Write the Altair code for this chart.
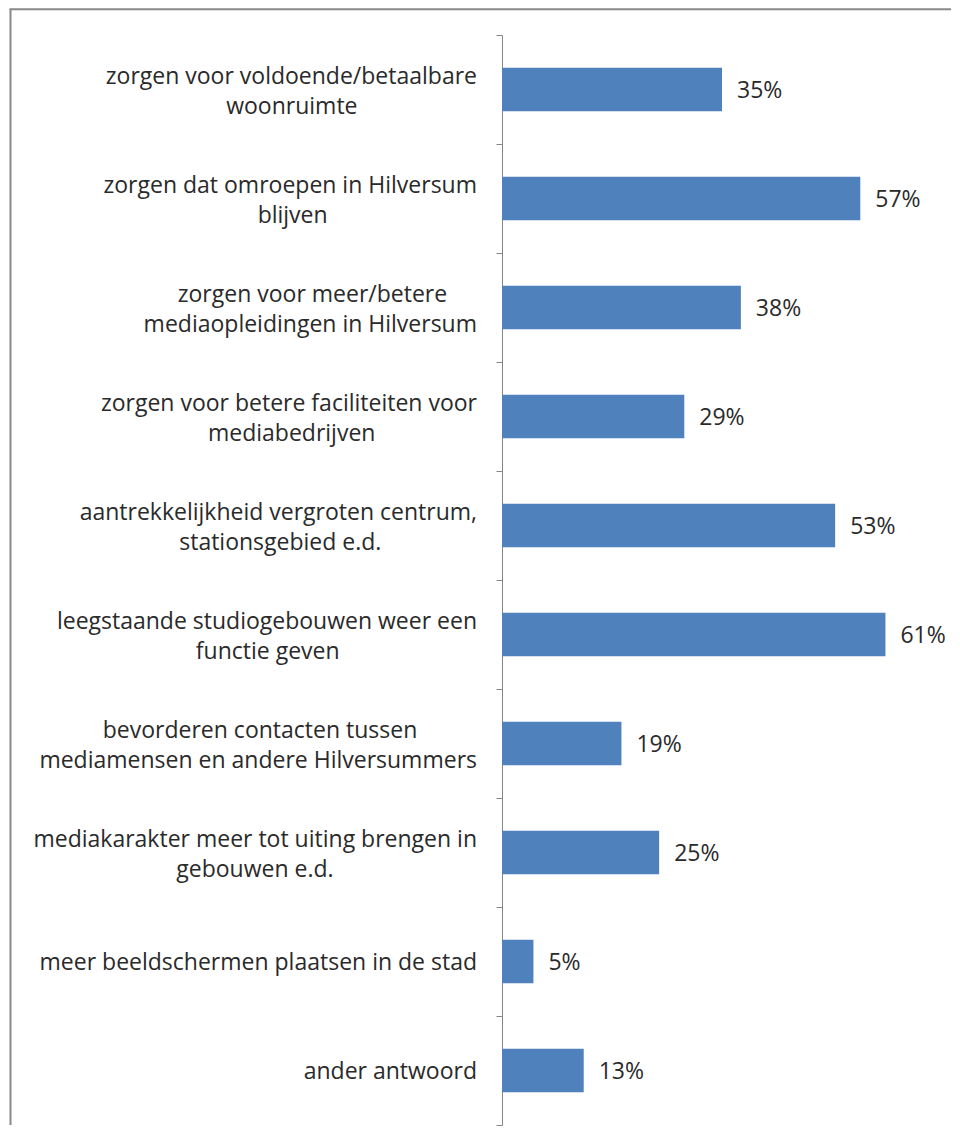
import altair as alt
import pandas as pd

# ---- data ----
categories = [
    "zorgen voor voldoende/betaalbare\nwoonruimte",
    "zorgen dat omroepen in Hilversum\nblijven",
    "zorgen voor meer/betere\nmediaopleidingen in Hilversum",
    "zorgen voor betere faciliteiten voor\nmediabedrijven",
    "aantrekkelijkheid vergroten centrum,\nstationsgebied e.d.",
    "leegstaande studiogebouwen weer een\nfunctie geven",
    "bevorderen contacten tussen\nmediamensen en andere Hilversummers",
    "mediakarakter meer tot uiting brengen in\ngebouwen e.d.",
    "meer beeldschermen plaatsen in de stad",
    "ander antwoord",
]
values = [35, 57, 38, 29, 53, 61, 19, 25, 5, 13]

# ---- styling helpers (centre the lines of each label like the original) ----
FONT = "Open Sans"
FS = 23
LH = 30
ADV = {  # approximate Open Sans advance widths (units per 2048 em)
    "a": 1139, "b": 1255, "c": 975, "d": 1255, "e": 1149, "f": 694, "g": 1122,
    "h": 1257, "i": 518, "j": 518, "k": 1075, "l": 518, "m": 1905, "n": 1257,
    "o": 1237, "p": 1255, "q": 1255, "r": 836, "s": 977, "t": 723, "u": 1257,
    "v": 1032, "w": 1593, "x": 1073, "y": 1032, "z": 977, " ": 532, ".": 545,
    "/": 748, ",": 502, "H": 1479,
}


def text_width(s):
    return sum(ADV.get(c, 1150) for c in s) / 2048 * FS


def centre_lines(label):
    lines = label.split("\n")
    widest = max(text_width(l) for l in lines)
    space = 532 / 2048 * FS
    out = []
    for l in lines:
        pad = int(round((widest - text_width(l)) / 2 / space))
        # non-breaking spaces followed by a word joiner so they are not trailing
        out.append(l + ("\u00a0" * pad + "\u2060" if pad else ""))
    return "\n".join(out)


display = [centre_lines(c) for c in categories]

df = pd.DataFrame({"label": display, "value": values})

AX = "#868686"
TXT = "#2a2a2a"
BAR = "#4F81BD"

y_enc = alt.Y(
    "label:N",
    sort=display,
    scale=alt.Scale(paddingInner=0, paddingOuter=0),
    axis=alt.Axis(
        title=None,
        tickBand="extent",
        domainColor=AX,
        domainWidth=1,
        tickColor=AX,
        tickWidth=1,
        tickSize=6,
        labels=False,
        grid=False,
    ),
)
x_enc = alt.X("value:Q", scale=alt.Scale(domain=[0, 70], nice=False), axis=None)

base = alt.Chart(df).encode(y=y_enc)

bars = base.mark_bar(color=BAR, height=alt.RelativeBandSize(0.4)).encode(x=x_enc)

pct = (
    base.transform_calculate(txt="datum.value + '%'")
    .mark_text(align="left", baseline="middle", dx=15, dy=1, font=FONT,
               fontSize=FS, color=TXT)
    .encode(x=x_enc, text="txt:N")
)

# category labels: right-aligned blocks, lines centred within a block
label_style = dict(align="right", baseline="middle", font=FONT, fontSize=FS,
                   color=TXT, lineHeight=LH)
labels_one = (
    base.transform_filter("indexof(datum.label, '\\n') < 0")
    .mark_text(dy=1, **label_style)
    .encode(x=alt.value(-25), text="label:N")
)
labels_two = (
    base.transform_filter("indexof(datum.label, '\\n') >= 0")
    .transform_calculate(lines="split(datum.label, '\\n')")
    .mark_text(dy=-13, **label_style)
    .encode(x=alt.value(-25), text="lines:N")
)

one = alt.Data(values=[{}])
frame_top = alt.Chart(one).mark_rule(color="#888888", strokeWidth=2).encode(
    x=alt.value(-492.5), x2=alt.value(449), y=alt.value(-25.7)
)
frame_left = alt.Chart(one).mark_rule(color="#888888", strokeWidth=2).encode(
    x=alt.value(-491.5), y=alt.value(-25.7), y2=alt.value(1090)
)

chart = (
    alt.layer(frame_top, frame_left, bars, pct, labels_one, labels_two)
    .properties(width=440, height=1090, padding=0, background="white")
    .configure_view(strokeWidth=0)
)

chart.save("out.html", embed_options={"renderer": "svg", "actions": False})
